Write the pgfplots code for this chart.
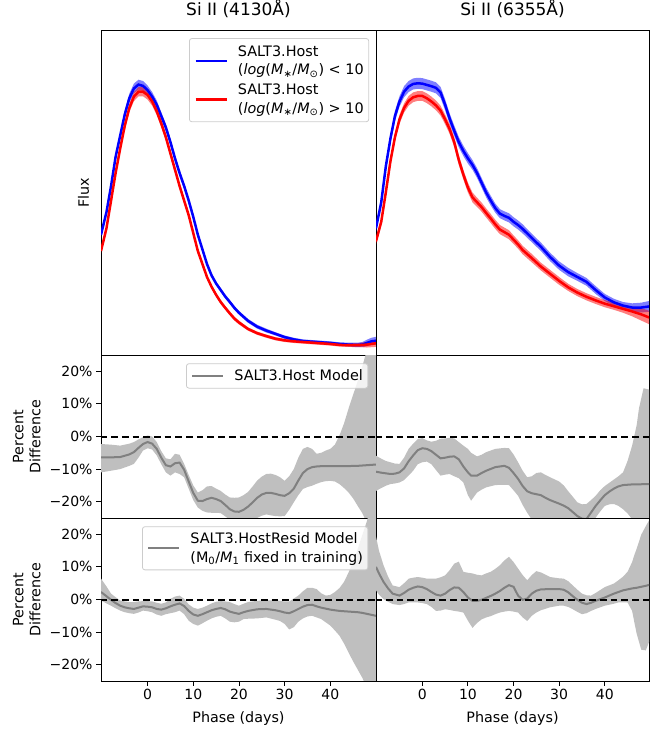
\documentclass[border=0pt]{standalone}
\usepackage{fontspec}
\setmainfont{DejaVu Sans}
\usepackage{pgfplots}
\pgfplotsset{compat=1.18}
\usepackage{pgfplotstable}
\usepgfplotslibrary{fillbetween}

\definecolor{bandgray}{RGB}{191,191,191}
\definecolor{linegray}{RGB}{128,128,128}
\definecolor{legframe}{RGB}{204,204,204}
\definecolor{mblue}{RGB}{0,0,255}
\definecolor{mred}{RGB}{255,0,0}

% flux tables: x, blue mid, blue half-width, red mid, red half-width
\pgfplotstableread{
x b bw r rw
-10.2 0.37 0.008 0.32 0.007
-9 0.44 0.009 0.39 0.008
-8 0.52 0.010 0.475 0.009
-7 0.61 0.011 0.56 0.010
-6 0.675 0.012 0.635 0.011
-5 0.74 0.013 0.705 0.012
-4 0.79 0.014 0.76 0.013
-3 0.82 0.015 0.795 0.014
-2 0.832 0.015 0.81 0.014
-1 0.828 0.015 0.81 0.014
0 0.815 0.014 0.80 0.014
1 0.795 0.014 0.78 0.013
2 0.77 0.013 0.75 0.012
3 0.735 0.012 0.712 0.011
4 0.70 0.011 0.67 0.011
5 0.655 0.011 0.62 0.010
6 0.605 0.010 0.57 0.010
7 0.56 0.010 0.52 0.009
8 0.52 0.009 0.475 0.009
9 0.475 0.009 0.43 0.008
10 0.425 0.008 0.375 0.008
11 0.37 0.008 0.32 0.007
12 0.325 0.007 0.28 0.007
13 0.28 0.007 0.24 0.006
14 0.245 0.007 0.21 0.006
15 0.22 0.006 0.185 0.006
16 0.2 0.006 0.163 0.006
17 0.18 0.006 0.145 0.006
18 0.163 0.006 0.128 0.006
19 0.145 0.006 0.112 0.006
20 0.13 0.006 0.1 0.006
22 0.105 0.006 0.08 0.005
24 0.087 0.006 0.067 0.005
26 0.075 0.006 0.058 0.005
28 0.065 0.005 0.05 0.005
30 0.055 0.005 0.045 0.005
32 0.048 0.005 0.042 0.005
34 0.043 0.005 0.04 0.005
36 0.041 0.005 0.038 0.005
38 0.039 0.005 0.036 0.005
40 0.037 0.005 0.034 0.005
42 0.034 0.005 0.031 0.005
44 0.032 0.006 0.03 0.005
46 0.031 0.007 0.03 0.006
47 0.032 0.008 0.031 0.007
48 0.037 0.010 0.032 0.009
49 0.042 0.011 0.034 0.010
50 0.044 0.012 0.036 0.011
}\fluxA

\pgfplotstableread{
x b bw r rw
-10.15 0.39 0.012 0.35 0.010
-9 0.47 0.013 0.41 0.011
-8 0.58 0.014 0.50 0.012
-7 0.665 0.015 0.595 0.013
-6 0.735 0.016 0.67 0.013
-5 0.78 0.016 0.725 0.014
-4 0.81 0.017 0.76 0.014
-3 0.826 0.017 0.782 0.015
-2 0.834 0.017 0.793 0.015
-1 0.836 0.017 0.797 0.015
0 0.835 0.017 0.797 0.015
1 0.831 0.017 0.79 0.015
2 0.827 0.017 0.78 0.015
3 0.822 0.017 0.768 0.015
4 0.808 0.017 0.752 0.015
5 0.77 0.017 0.725 0.015
6 0.727 0.016 0.695 0.015
7 0.69 0.016 0.655 0.015
8 0.655 0.016 0.60 0.015
9 0.628 0.016 0.555 0.015
10 0.605 0.016 0.515 0.015
11 0.585 0.015 0.485 0.015
12 0.56 0.015 0.47 0.014
13 0.53 0.015 0.455 0.014
14 0.50 0.015 0.437 0.014
15 0.475 0.015 0.42 0.014
16 0.452 0.014 0.402 0.014
17 0.435 0.014 0.386 0.014
18 0.428 0.014 0.378 0.014
19 0.422 0.014 0.37 0.014
20 0.41 0.014 0.355 0.013
21 0.40 0.014 0.34 0.013
22 0.388 0.014 0.323 0.013
24 0.36 0.013 0.298 0.013
26 0.333 0.013 0.272 0.012
28 0.302 0.013 0.25 0.012
30 0.275 0.013 0.228 0.012
32 0.255 0.013 0.208 0.011
34 0.24 0.012 0.192 0.011
36 0.225 0.012 0.179 0.011
38 0.20 0.012 0.168 0.011
40 0.177 0.011 0.158 0.011
42 0.162 0.011 0.15 0.011
44 0.152 0.011 0.142 0.012
46 0.146 0.013 0.134 0.015
48 0.146 0.015 0.125 0.019
50 0.15 0.017 0.114 0.021
}\fluxB

% percent-difference tables: x, lower, mid, upper
\pgfplotstableread{
x lo mid hi
-10.2 -11 -6.4 -2.3
-8 -10.5 -6.4 -2.5
-6 -10 -6.3 -2.8
-4 -9 -5.5 -2.2
-3 -8.4 -4.8 -1.7
-2 -6.5 -3.5 -0.9
-1 -4.3 -2.3 -0.2
0 -3.6 -1.7 0.3
1 -4 -2.2 0
2 -5.8 -3.8 -1.7
3 -8.5 -6.5 -4.5
4 -11 -8.8 -6.7
5 -12 -9.2 -7
6 -11 -8.2 -5.3
7 -11.5 -8 -5.6
8 -12.5 -10.2 -8.4
9 -16 -13.8 -11.8
10 -19.5 -17.3 -15
11 -21.8 -19.7 -17.2
12 -22.8 -19.8 -16.5
13 -23.3 -19.2 -15.3
14 -23.4 -18.8 -15.2
15 -23.4 -19.2 -16
16 -23.5 -19.8 -16.7
17 -24.5 -21 -17.8
18 -25.5 -22.3 -18.7
19 -26 -23 -18.8
20 -26 -23.1 -18.7
21 -25.5 -22.5 -18
22 -25 -21.5 -17
23 -25 -20.2 -15.3
24 -25 -18.8 -13.5
25 -24.3 -17.8 -12.3
26 -23.9 -17.3 -11.5
27 -24.2 -17.3 -11.4
28 -24.4 -17.6 -11.8
29 -24.5 -18 -12.5
30 -24.4 -18.2 -13.6
31 -22.5 -17.4 -12.2
32 -20.2 -16 -10
33 -18 -13.5 -6.5
34 -16.1 -11.2 -3.8
35 -15.5 -10 -3.2
36 -15.1 -9.4 -3.8
37 -14.5 -9.2 -5.3
38 -14 -9.1 -5
39 -13.7 -9.1 -4.3
40 -13.6 -9.1 -3.8
41 -13.8 -9.1 -2.5
42 -14.6 -9.1 0.3
43 -15.8 -9.1 4
44 -17.2 -9.1 8.6
45 -19 -9 12.8
46 -21.3 -9 17
47 -23.5 -8.9 21.5
48 -26.5 -8.8 26.5
49 -31 -8.7 32
50 -36 -8.6 38
}\hostA

\pgfplotstableread{
x lo mid hi
-10.15 -16.7 -10.8 -5.9
-9 -15.8 -11.1 -6.8
-8 -15.1 -11.3 -7.5
-7 -14.6 -11.5 -7.9
-6 -14.4 -11.4 -8.3
-5 -14.1 -11 -8.4
-4 -13.4 -9.8 -6.5
-3 -12 -7.6 -3.8
-2 -10.5 -5.8 -2.2
-1 -8.5 -4.2 -0.8
0 -7.9 -3.6 -0.5
1 -7.7 -3.8 -1.2
2 -8.5 -4.5 -1.6
3 -10.3 -5.6 -1.3
4 -12 -6.7 -0.7
5 -11.7 -6.5 -0.6
6 -11.5 -6.2 -0.4
7 -12.2 -6.1 -0.6
8 -12.8 -7 -1.7
9 -14.1 -9.2 -2.8
10 -18 -11 -3.8
10.7 -19.7 -12 -5
12 -17.2 -12 -6.1
13 -16.3 -11.2 -5.6
14 -15.6 -10.5 -4.8
16 -14.9 -9.4 -3.8
18 -14.8 -9 -3.5
19 -14.9 -9.6 -3.6
20 -16.5 -11.2 -5.5
21 -18.2 -13 -7.9
22 -21 -15.2 -10.5
23 -23.4 -16.8 -12.5
24 -25.5 -17.4 -12.2
25 -27 -17.7 -11.2
26 -28 -18 -11
27 -29 -18.8 -11.8
28 -30 -19.5 -12.5
30 -30 -20.6 -13.8
31 -30 -21.2 -15
32 -30 -22 -16.8
33 -30 -23.2 -18.5
34 -30 -24.4 -20.2
35 -30 -25.2 -20.8
36 -30 -25.3 -20.7
37 -28 -23.3 -19.5
38 -24.9 -21.3 -18.2
39 -23 -19.6 -16.5
40 -21.3 -18 -15.2
41 -20.8 -16.9 -14.2
42 -20.7 -16 -13.2
43 -21.3 -15.3 -12.2
44 -22.3 -14.9 -11
45 -23.6 -14.8 -7.5
46 -25.4 -14.7 -2.8
47 -28 -14.7 3.5
47.5 -29 -14.7 8.6
48.5 -32 -14.6 14.8
50 -34 -14.6 14.3
}\hostB

\pgfplotstableread{
x lo mid hi
-10.2 -0.3 2.3 6.4
-9 -1.2 1.0 4.0
-8 -1.9 -0.1 1.8
-7 -2.7 -1.1 0.7
-6 -3.4 -1.9 -0.3
-5 -3.9 -2.4 -0.6
-4 -4.2 -2.7 -0.8
-3 -4.4 -2.9 -0.8
-2 -4 -2.5 -0.6
-1 -3.4 -2.1 -0.5
0 -3.6 -2.2 -0.5
1 -3.9 -2.4 -0.6
2 -4.6 -2.9 -1.0
3 -5.0 -3.1 -1.3
4 -4.5 -2.7 -0.9
5 -4.2 -2.1 0.2
6 -3.9 -1.6 0.9
7 -3.4 -1.2 1.2
8 -4.5 -2.0 0.2
9 -6.5 -3.5 -1.5
10 -7.5 -4.6 -2.5
11 -8.0 -5.0 -2.9
12 -7.3 -4.5 -2.5
13 -6.5 -3.9 -1.9
14 -5.8 -3.3 -1.2
15 -5.3 -2.9 -0.7
16 -5.0 -2.6 -0.5
17 -5.8 -3.0 -0.6
18 -6.8 -3.7 -0.8
19 -7.0 -4.1 -1.4
20 -6.8 -4.4 -1.9
21 -6.0 -3.9 -1.3
22 -5.9 -3.5 -0.8
24 -5.8 -3.0 -0.4
26 -5.5 -2.9 -0.3
28 -6.2 -3.3 -0.3
29 -6.6 -3.6 -0.4
30 -7.5 -4.0 -0.6
31 -9.2 -4.2 -0.6
32 -8.5 -3.6 0.3
33 -6.8 -2.9 1.2
34 -5.8 -2.2 2.5
35 -5.2 -1.7 3.6
36 -5.0 -1.6 3.6
37 -5.5 -2.1 3.2
38 -6.0 -2.5 1.9
39 -7.0 -2.8 1.2
40 -8.0 -3.1 1.4
41 -9.5 -3.3 2.3
42 -11.1 -3.5 3.5
43 -13.5 -3.6 5.4
44 -16.3 -3.7 8.3
45 -19 -3.8 11.6
46 -21.5 -3.9 15.5
47 -24 -4.1 19.8
48 -27 -4.4 24
49 -30 -4.7 29
50 -33 -5.0 34
}\residA

\pgfplotstableread{
x lo mid hi
-10.15 2.8 10.0 19.3
-9.5 1.5 8.0 15
-8.5 0.1 5.4 10.5
-7.5 -0.7 3.4 7
-6.5 -1.4 1.8 4.3
-5 -1.7 1.2 3.8
-4 -1.4 2.0 5.0
-3 -0.9 3.0 6.4
-2 -0.9 3.6 6.7
-1 -0.9 4.0 6.9
0 -1.1 3.8 6.7
1 -1.4 3.2 6.4
2 -2.3 2.3 6.4
3 -3.5 1.5 6.4
4 -3.4 1.2 6.8
5 -3.0 1.8 7.4
6 -3.2 2.9 9.0
7 -3.5 3.7 11.0
8 -3.7 3.6 11.6
9 -4.0 2.3 8.5
10 -6.5 0.6 8.2
11 -8.7 -0.4 8.0
12 -7.2 -0.4 7.6
13 -6.1 -0.1 7.4
14 -5.5 0.5 8.0
15 -5.1 1.1 8.5
16 -4.5 1.8 9.4
17 -4.0 2.6 10.5
18 -3.7 3.6 12.0
19 -3.5 4.4 13.1
20 -3.7 3.9 11.5
21 -4.0 1.2 9.5
22 -5.5 -0.1 7.5
23 -6.6 0.3 5.9
24 -5.0 1.8 7.5
25 -4.0 2.7 8.7
26 -3.3 3.1 8.3
28 -2.4 3.2 6.9
30 -1.9 3.2 6.5
31 -1.9 3.0 6.4
32 -2.3 2.2 5.6
33 -3.0 1.0 4.3
34 -3.8 -0.1 3.0
35 -4.5 -1.0 1.8
36 -4.2 -1.4 1.3
37 -3.5 -1.0 1.2
38 -2.9 -0.4 2.0
40 -1.9 0.6 3.8
42 -1.3 1.8 4.9
43 -0.9 2.3 5.9
44 -0.9 2.8 7.0
45 -0.9 3.1 8.5
46 -3.5 3.4 11.5
46.5 -7.1 3.5 13.7
47 -10.5 3.6 15.6
48 -15.4 3.9 19.9
49 -15.6 4.2 22.5
50 -12 4.6 25
}\residB

\pgfplotsset{
  base/.style={
    scale only axis, anchor=south west,
    axis line style={line width=0.9pt},
    tick style={line width=0.9pt, black},
    major tick length=5pt, tick align=outside, tick pos=left,
    tick label style={font=\fontsize{14}{17}\selectfont},
    label style={font=\fontsize{14.3}{17}\selectfont},
    title style={font=\fontsize{17}{20}\selectfont},
    /pgf/number format/assume math mode=true,
    legend style={font=\fontsize{14.4}{18.7}\selectfont, draw=legframe, line width=0.8pt,
      rounded corners=2.5pt, fill=white, fill opacity=0.8, text opacity=1, draw opacity=1,
      cells={align=left}, anchor=north east,
      inner xsep=5pt, inner ysep=7pt, column sep=10pt, row sep=7.5pt,
      nodes={inner sep=0pt}},
    legend cell align=left,
    legend image code/.code={\draw[#1] (0pt,0pt) -- (31pt,0pt);},
  },
  leftcol/.style={xmin=-10.2, xmax=50, width=275pt},
  rightcol/.style={xmin=-10.15, xmax=49.7, width=273pt},
  fluxpanel/.style={height=325pt, ymin=0, ymax=1, xtick=\empty, ytick=\empty},
  pctpanel/.style={height=163pt, ymin=-25, ymax=25, ytick={-20,-10,0,10,20}},
  pctlabels/.style={yticklabels={−20\%,−10\%,0\%,10\%,20\%},
    ylabel={Percent\\Difference},
    ylabel style={align=center, at={(axis description cs:-0.27,0.5)}, anchor=center}},
  nolabels/.style={yticklabels={}},
  bottomx/.style={xtick={0,10,20,30,40}, xlabel={Phase (days)},
    xlabel style={at={(axis description cs:0.5,-0.233)}, anchor=center}},
  midx/.style={xtick=\empty},
  zeroline/.style={black, line width=2pt, dash pattern=on 6.7pt off 4pt, forget plot},
}

\newcommand{\pctcurves}[1]{%
  \addplot[name path=up, draw=none, forget plot] table[x=x, y=hi] {#1};
  \addplot[name path=dn, draw=none, forget plot] table[x=x, y=lo] {#1};
  \addplot[bandgray, forget plot] fill between[of=up and dn];
}

\begin{document}
\begin{tikzpicture}

% ---------- top left ----------
\begin{axis}[base, leftcol, fluxpanel, at={(101pt,374pt)},
  title={Si II (4130Å)}, title style={at={(axis description cs:0.5,1.046)}, anchor=center},
  ylabel={Flux}, ylabel style={at={(axis description cs:-0.0636,0.5)}, anchor=center},
  legend style={at={(axis description cs:0.975,0.975)}}]
\addplot[name path=bu, draw=none, forget plot] table[x=x, y expr=\thisrow{b}+\thisrow{bw}] {\fluxA};
\addplot[name path=bl, draw=none, forget plot] table[x=x, y expr=\thisrow{b}-\thisrow{bw}] {\fluxA};
\addplot[mblue, fill opacity=0.5, forget plot] fill between[of=bu and bl];
\addplot[mblue, line width=2.5pt] table[x=x, y=b] {\fluxA};
\addlegendentry{SALT3.Host\\(\textit{log}(\textit{M}\textsubscript{∗}/\textit{M}\textsubscript{⊙}) < 10}
\addplot[name path=ru, draw=none, forget plot] table[x=x, y expr=\thisrow{r}+\thisrow{rw}] {\fluxA};
\addplot[name path=rl, draw=none, forget plot] table[x=x, y expr=\thisrow{r}-\thisrow{rw}] {\fluxA};
\addplot[mred, fill opacity=0.5, forget plot] fill between[of=ru and rl];
\addplot[mred, line width=2.5pt] table[x=x, y=r] {\fluxA};
\addlegendentry{SALT3.Host\\(\textit{log}(\textit{M}\textsubscript{∗}/\textit{M}\textsubscript{⊙}) > 10}
\end{axis}

% ---------- top right ----------
\begin{axis}[base, rightcol, fluxpanel, at={(376pt,374pt)},
  title={Si II (6355Å)}, title style={at={(axis description cs:0.5,1.046)}, anchor=center}]
\addplot[name path=bu, draw=none, forget plot] table[x=x, y expr=\thisrow{b}+\thisrow{bw}] {\fluxB};
\addplot[name path=bl, draw=none, forget plot] table[x=x, y expr=\thisrow{b}-\thisrow{bw}] {\fluxB};
\addplot[mblue, fill opacity=0.5, forget plot] fill between[of=bu and bl];
\addplot[mblue, line width=2.5pt] table[x=x, y=b] {\fluxB};
\addplot[name path=ru, draw=none, forget plot] table[x=x, y expr=\thisrow{r}+\thisrow{rw}] {\fluxB};
\addplot[name path=rl, draw=none, forget plot] table[x=x, y expr=\thisrow{r}-\thisrow{rw}] {\fluxB};
\addplot[mred, fill opacity=0.5, forget plot] fill between[of=ru and rl];
\addplot[mred, line width=2.5pt] table[x=x, y=r] {\fluxB};
\end{axis}

% ---------- middle left ----------
\begin{axis}[base, leftcol, pctpanel, pctlabels, midx, at={(101pt,211pt)},
  legend style={at={(axis description cs:0.972,0.949)}, inner ysep=6pt}]
\pctcurves{\hostA}
\addplot[linegray, line width=2pt] table[x=x, y=mid] {\hostA};
\addlegendentry{SALT3.Host Model}
\addplot[zeroline] coordinates {(-15,0) (55,0)};
\end{axis}

% ---------- middle right ----------
\begin{axis}[base, rightcol, pctpanel, nolabels, midx, at={(376pt,211pt)}]
\pctcurves{\hostB}
\addplot[linegray, line width=2pt] table[x=x, y=mid] {\hostB};
\addplot[zeroline] coordinates {(-15,0) (55,0)};
\end{axis}

% ---------- bottom left ----------
\begin{axis}[base, leftcol, pctpanel, pctlabels, bottomx, at={(101pt,48pt)},
  legend style={at={(axis description cs:0.972,0.949)}, inner ysep=6pt}]
\pctcurves{\residA}
\addplot[linegray, line width=2pt] table[x=x, y=mid] {\residA};
\addlegendentry{SALT3.HostResid Model\\(M\textsubscript{0}/\textit{M}\textsubscript{1} fixed in training)}
\addplot[zeroline] coordinates {(-15,0) (55,0)};
\end{axis}

% ---------- bottom right ----------
\begin{axis}[base, rightcol, pctpanel, nolabels, bottomx, at={(376pt,48pt)}]
\pctcurves{\residB}
\addplot[linegray, line width=2pt] table[x=x, y=mid] {\residB};
\addplot[zeroline] coordinates {(-15,0) (55,0)};
\end{axis}

\pgfresetboundingbox
\useasboundingbox (0pt,0pt) rectangle (649pt,729pt);
\end{tikzpicture}
\end{document}
